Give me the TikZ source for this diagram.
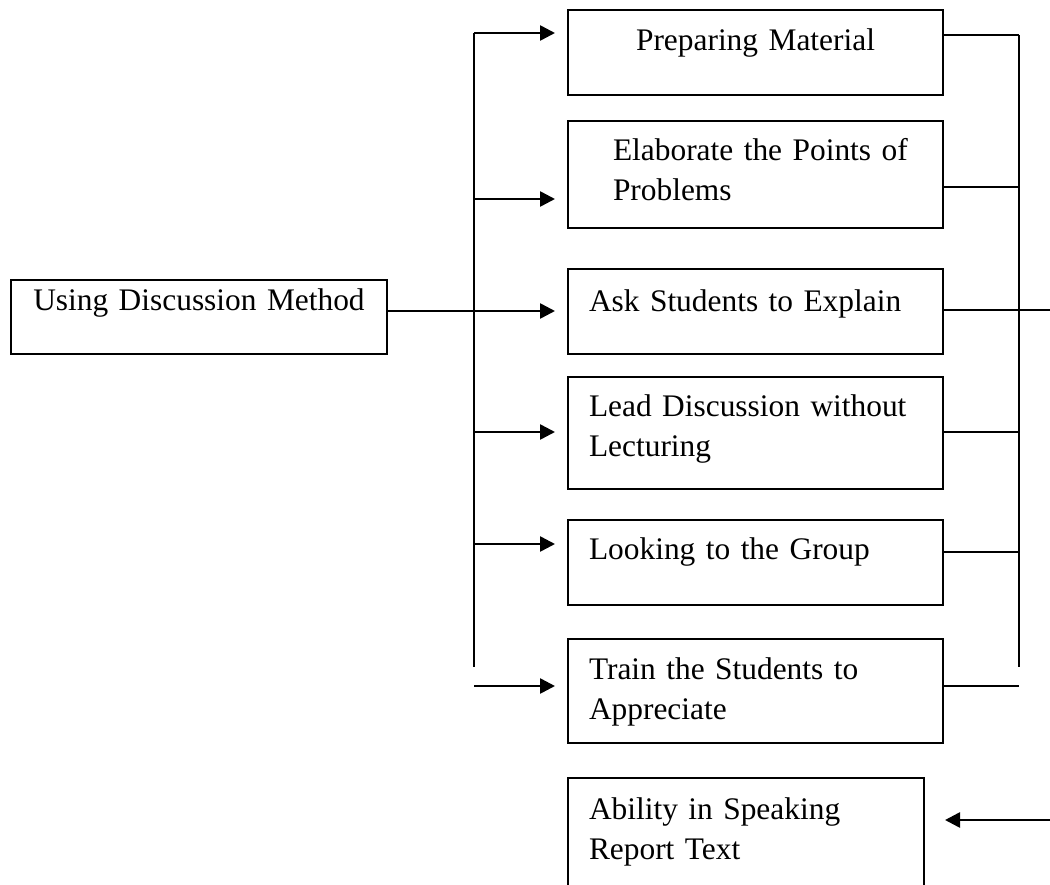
\documentclass[tikz,border=0pt]{standalone}
\usepackage{fontspec}
\setmainfont{Liberation Serif}
\usepackage{tikz}
\usetikzlibrary{arrows.meta}

\tikzset{
    stage/.style = {draw, line width = 1pt, anchor = north west, inner xsep = 10.5pt, inner ysep = 0pt, text width = 166.5pt, align = left, text height = 20pt},
    link/.style = {line width = 0.8pt},
    feed/.style = {line width = 1.3pt, -{Triangle[length = 7.5pt, width = 7.5pt]}},
}

\begin{document}
    \begin{tikzpicture}[x = 0.5pt, y = -0.5pt, font = \fontsize{15.7}{20}\selectfont]
        \useasboundingbox (0,0) rectangle (1050,884);
        \clip (0,0) rectangle (1050,884);

        \node[stage, align = center, text width = 170pt, inner xsep = 9pt, text height = 15pt, text depth = 22pt] (using) at (10,279) {Using Discussion Method};

        \node[stage, align = center, text depth = 22.5pt] (prep) at (567,9) {Preparing Material};
        \node[stage, text height = 19.5pt, text depth = 34pt] (elab) at (567,120) {\baselineskip=21.5pt\hspace*{12pt}Elaborate the Points of\\\hspace*{12pt}Problems};
        \node[stage, text height = 21pt, text depth = 21.5pt] (ask) at (567,268) {Ask Students to Explain};
        \node[stage, text height = 19.5pt, text depth = 36.5pt] (lead) at (567,376) {Lead Discussion without\\Lecturing};
        \node[stage, text height = 19.5pt, text depth = 23pt] (look) at (567,519) {Looking to the Group};
        \node[stage, text depth = 32pt] (train) at (567,638) {Train the Students to\\Appreciate};
        \node[stage, text width = 157pt, text height = 20.5pt, text depth = 41pt] (ability) at (567,777) {Ability in Speaking\\Report Text};

        \draw[link] (474,33) -- (474,667);
        \foreach \n/\y in {prep/33, elab/199, ask/311, lead/432, look/544, train/686}
        {
            \coordinate (in-\n) at (474,\y);
            \draw[feed, shorten >= 6pt] (in-\n) -- (in-\n -| \n.west);
        }
        \draw[link] (using.east |- in-ask) -- (in-ask);

        \draw[link] (1019,35) -- (1019,667);
        \foreach \n/\y in {prep/35, elab/187, ask/310, lead/432, look/552, train/686}
        {
            \coordinate (out-\n) at (1019,\y);
            \draw[link] (out-\n -| \n.east) -- (out-\n);
        }
        \coordinate (edge) at (1050,310);
        \draw[link] (out-ask) -- (edge);

        \coordinate (back) at (1050,820);
        \draw[feed, shorten >= 10pt] (back) -- (back -| ability.east);
    \end{tikzpicture}
\end{document}
